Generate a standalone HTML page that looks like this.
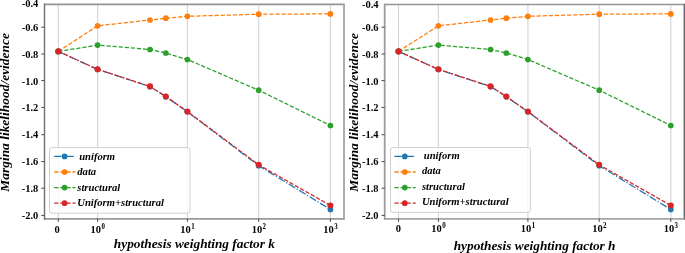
<!DOCTYPE html>
<html><head><meta charset="utf-8"><style>
html,body{margin:0;padding:0;background:#fff;}
svg{display:block;will-change:transform;}
.tk{font-family:"Liberation Serif",serif;font-weight:bold;font-size:10.5px;fill:#000;}
.sup{font-size:6.9px;}
.lab{font-family:"Liberation Serif",serif;font-weight:bold;font-style:italic;font-size:13.45px;fill:#000;}
.leg{font-family:"Liberation Serif",serif;font-weight:bold;font-style:italic;font-size:10.6px;fill:#000;}
</style></head><body>
<svg width="685" height="253" viewBox="0 0 685 253">
<rect width="685" height="253" fill="#fff"/>
<g>
<line x1="58.30" y1="4.3" x2="58.30" y2="218.6" stroke="#d5d5d5" stroke-width="1.15"/>
<line x1="97.60" y1="4.3" x2="97.60" y2="218.6" stroke="#d5d5d5" stroke-width="1.15"/>
<line x1="187.40" y1="4.3" x2="187.40" y2="218.6" stroke="#d5d5d5" stroke-width="1.15"/>
<line x1="258.70" y1="4.3" x2="258.70" y2="218.6" stroke="#d5d5d5" stroke-width="1.15"/>
<line x1="330.40" y1="4.3" x2="330.40" y2="218.6" stroke="#d5d5d5" stroke-width="1.15"/>
<g>
<polyline points="58.30,51.40 97.60,69.45 150.00,86.55 165.80,96.65 187.40,111.75 258.70,165.70 330.40,209.40" fill="none" stroke="#1f77b4" stroke-width="1.27" stroke-dasharray="7.36,1.84,1.15,1.84"/><circle cx="58.30" cy="51.40" r="2.85" fill="#1f77b4"/><circle cx="97.60" cy="69.45" r="2.85" fill="#1f77b4"/><circle cx="150.00" cy="86.55" r="2.85" fill="#1f77b4"/><circle cx="165.80" cy="96.65" r="2.85" fill="#1f77b4"/><circle cx="187.40" cy="111.75" r="2.85" fill="#1f77b4"/><circle cx="258.70" cy="165.70" r="2.85" fill="#1f77b4"/><circle cx="330.40" cy="209.40" r="2.85" fill="#1f77b4"/>
<polyline points="58.30,51.40 97.60,25.80 150.00,20.00 165.80,18.20 187.40,16.30 258.70,14.20 330.40,13.90" fill="none" stroke="#ff7f0e" stroke-width="1.27" stroke-dasharray="4.25,1.84"/><circle cx="58.30" cy="51.40" r="2.85" fill="#ff7f0e"/><circle cx="97.60" cy="25.80" r="2.85" fill="#ff7f0e"/><circle cx="150.00" cy="20.00" r="2.85" fill="#ff7f0e"/><circle cx="165.80" cy="18.20" r="2.85" fill="#ff7f0e"/><circle cx="187.40" cy="16.30" r="2.85" fill="#ff7f0e"/><circle cx="258.70" cy="14.20" r="2.85" fill="#ff7f0e"/><circle cx="330.40" cy="13.90" r="2.85" fill="#ff7f0e"/>
<polyline points="58.30,51.40 97.60,45.10 150.00,49.50 165.80,53.00 187.40,59.50 258.70,90.20 330.40,125.50" fill="none" stroke="#2ca02c" stroke-width="1.27" stroke-dasharray="4.25,1.84"/><circle cx="58.30" cy="51.40" r="2.85" fill="#2ca02c"/><circle cx="97.60" cy="45.10" r="2.85" fill="#2ca02c"/><circle cx="150.00" cy="49.50" r="2.85" fill="#2ca02c"/><circle cx="165.80" cy="53.00" r="2.85" fill="#2ca02c"/><circle cx="187.40" cy="59.50" r="2.85" fill="#2ca02c"/><circle cx="258.70" cy="90.20" r="2.85" fill="#2ca02c"/><circle cx="330.40" cy="125.50" r="2.85" fill="#2ca02c"/>
<polyline points="58.30,51.40 97.60,69.30 150.00,86.40 165.80,96.50 187.40,111.50 258.70,164.80 330.40,205.50" fill="none" stroke="#d62728" stroke-width="1.27" stroke-dasharray="4.25,1.84"/><circle cx="58.30" cy="51.40" r="3.0500000000000003" fill="#d62728"/><circle cx="97.60" cy="69.30" r="3.0500000000000003" fill="#d62728"/><circle cx="150.00" cy="86.40" r="3.0500000000000003" fill="#d62728"/><circle cx="165.80" cy="96.50" r="3.0500000000000003" fill="#d62728"/><circle cx="187.40" cy="111.50" r="3.0500000000000003" fill="#d62728"/><circle cx="258.70" cy="164.80" r="3.0500000000000003" fill="#d62728"/><circle cx="330.40" cy="205.50" r="3.0500000000000003" fill="#d62728"/>
</g>
<rect x="49.5" y="147.6" width="140.5" height="65.6" rx="2.5" fill="#fff" fill-opacity="0.8" stroke="#d0d0d0" stroke-width="1"/>
<line x1="54.2" y1="156.4" x2="75.5" y2="156.4" stroke="#1f77b4" stroke-width="1.27" stroke-dasharray="7.36,1.84,1.15,1.84"/>
<circle cx="64.6" cy="156.4" r="2.85" fill="#1f77b4"/>
<text x="79.2" y="159.6" class="leg">uniform</text>
<line x1="54.2" y1="172.0" x2="75.5" y2="172.0" stroke="#ff7f0e" stroke-width="1.27" stroke-dasharray="4.25,1.84"/>
<circle cx="64.6" cy="172.0" r="2.85" fill="#ff7f0e"/>
<text x="77.3" y="175.2" class="leg">data</text>
<line x1="54.2" y1="187.6" x2="75.5" y2="187.6" stroke="#2ca02c" stroke-width="1.27" stroke-dasharray="4.25,1.84"/>
<circle cx="64.6" cy="187.6" r="2.85" fill="#2ca02c"/>
<text x="77.3" y="190.8" class="leg">structural</text>
<line x1="54.2" y1="203.2" x2="75.5" y2="203.2" stroke="#d62728" stroke-width="1.27" stroke-dasharray="4.25,1.84"/>
<circle cx="64.6" cy="203.2" r="2.85" fill="#d62728"/>
<text x="77.3" y="206.4" class="leg">Uniform+structural</text>
<line x1="44.5" y1="4.3" x2="344.0" y2="4.3" stroke="#959595" stroke-width="1.7"/>
<line x1="344.0" y1="3.4499999999999997" x2="344.0" y2="219.85" stroke="#acacac" stroke-width="2.0"/>
<line x1="44.5" y1="218.9" x2="344.0" y2="218.9" stroke="#9a9a9a" stroke-width="1.9"/>
<line x1="44.5" y1="3.4499999999999997" x2="44.5" y2="219.85" stroke="#707070" stroke-width="1.4"/>
<line x1="41.3" y1="27.2" x2="44.5" y2="27.2" stroke="#4a4a4a" stroke-width="1"/>
<text transform="translate(38.3,30.70) scale(1,1.08)" class="tk" text-anchor="end">-0.6</text>
<line x1="41.3" y1="54.0" x2="44.5" y2="54.0" stroke="#4a4a4a" stroke-width="1"/>
<text transform="translate(38.3,57.50) scale(1,1.08)" class="tk" text-anchor="end">-0.8</text>
<line x1="41.3" y1="80.6" x2="44.5" y2="80.6" stroke="#4a4a4a" stroke-width="1"/>
<text transform="translate(38.3,84.60) scale(1,1.08)" class="tk" text-anchor="end">-1.0</text>
<line x1="41.3" y1="107.4" x2="44.5" y2="107.4" stroke="#4a4a4a" stroke-width="1"/>
<text transform="translate(38.3,110.90) scale(1,1.08)" class="tk" text-anchor="end">-1.2</text>
<line x1="41.3" y1="134.7" x2="44.5" y2="134.7" stroke="#4a4a4a" stroke-width="1"/>
<text transform="translate(38.3,138.20) scale(1,1.08)" class="tk" text-anchor="end">-1.4</text>
<line x1="41.3" y1="161.6" x2="44.5" y2="161.6" stroke="#4a4a4a" stroke-width="1"/>
<text transform="translate(38.3,165.10) scale(1,1.08)" class="tk" text-anchor="end">-1.6</text>
<line x1="41.3" y1="188.2" x2="44.5" y2="188.2" stroke="#4a4a4a" stroke-width="1"/>
<text transform="translate(38.3,191.70) scale(1,1.08)" class="tk" text-anchor="end">-1.8</text>
<line x1="41.3" y1="215.4" x2="44.5" y2="215.4" stroke="#4a4a4a" stroke-width="1"/>
<text transform="translate(38.3,218.90) scale(1,1.08)" class="tk" text-anchor="end">-2.0</text>
<text transform="translate(38.3,7.0) scale(1,1.08)" class="tk" text-anchor="end">-0.4</text>
<line x1="58.30" y1="218.6" x2="58.30" y2="221.79999999999998" stroke="#4a4a4a" stroke-width="1"/>
<line x1="97.60" y1="218.6" x2="97.60" y2="221.79999999999998" stroke="#4a4a4a" stroke-width="1"/>
<line x1="187.40" y1="218.6" x2="187.40" y2="221.79999999999998" stroke="#4a4a4a" stroke-width="1"/>
<line x1="258.70" y1="218.6" x2="258.70" y2="221.79999999999998" stroke="#4a4a4a" stroke-width="1"/>
<line x1="330.40" y1="218.6" x2="330.40" y2="221.79999999999998" stroke="#4a4a4a" stroke-width="1"/>
<text transform="translate(57.1,232.6) scale(1,1.08)" class="tk" text-anchor="middle">0</text>
<text transform="translate(97.7,232.6) scale(1,1.08)" class="tk" text-anchor="middle">10<tspan class="sup" dx="0.4" dy="-3.6">0</tspan></text>
<text transform="translate(187.5,232.6) scale(1,1.08)" class="tk" text-anchor="middle">10<tspan class="sup" dx="0.4" dy="-3.6">1</tspan></text>
<text transform="translate(258.8,232.6) scale(1,1.08)" class="tk" text-anchor="middle">10<tspan class="sup" dx="0.4" dy="-3.6">2</tspan></text>
<text transform="translate(330.5,232.6) scale(1,1.08)" class="tk" text-anchor="middle">10<tspan class="sup" dx="0.4" dy="-3.6">3</tspan></text>
<text x="194.4" y="247.8" class="lab" style="font-size:13.33px" text-anchor="middle">hypothesis weighting factor k</text>
<text transform="translate(9.3,112.4) rotate(-90)" x="0" y="0" class="lab" text-anchor="middle">Margina likelihood/evidence</text>
</g>
<g transform="translate(340.2,0)">
<line x1="58.30" y1="4.3" x2="58.30" y2="218.6" stroke="#d5d5d5" stroke-width="1.15"/>
<line x1="98.20" y1="4.3" x2="98.20" y2="218.6" stroke="#d5d5d5" stroke-width="1.15"/>
<line x1="187.70" y1="4.3" x2="187.70" y2="218.6" stroke="#d5d5d5" stroke-width="1.15"/>
<line x1="259.00" y1="4.3" x2="259.00" y2="218.6" stroke="#d5d5d5" stroke-width="1.15"/>
<line x1="330.60" y1="4.3" x2="330.60" y2="218.6" stroke="#d5d5d5" stroke-width="1.15"/>
<g>
<polyline points="58.30,51.40 98.20,69.45 150.35,86.55 166.15,96.65 187.70,111.75 259.00,165.70 330.60,209.40" fill="none" stroke="#1f77b4" stroke-width="1.27" stroke-dasharray="7.36,1.84,1.15,1.84"/><circle cx="58.30" cy="51.40" r="2.85" fill="#1f77b4"/><circle cx="98.20" cy="69.45" r="2.85" fill="#1f77b4"/><circle cx="150.35" cy="86.55" r="2.85" fill="#1f77b4"/><circle cx="166.15" cy="96.65" r="2.85" fill="#1f77b4"/><circle cx="187.70" cy="111.75" r="2.85" fill="#1f77b4"/><circle cx="259.00" cy="165.70" r="2.85" fill="#1f77b4"/><circle cx="330.60" cy="209.40" r="2.85" fill="#1f77b4"/>
<polyline points="58.30,51.40 98.20,25.80 150.35,20.00 166.15,18.20 187.70,16.30 259.00,14.20 330.60,13.90" fill="none" stroke="#ff7f0e" stroke-width="1.27" stroke-dasharray="4.25,1.84"/><circle cx="58.30" cy="51.40" r="2.85" fill="#ff7f0e"/><circle cx="98.20" cy="25.80" r="2.85" fill="#ff7f0e"/><circle cx="150.35" cy="20.00" r="2.85" fill="#ff7f0e"/><circle cx="166.15" cy="18.20" r="2.85" fill="#ff7f0e"/><circle cx="187.70" cy="16.30" r="2.85" fill="#ff7f0e"/><circle cx="259.00" cy="14.20" r="2.85" fill="#ff7f0e"/><circle cx="330.60" cy="13.90" r="2.85" fill="#ff7f0e"/>
<polyline points="58.30,51.40 98.20,45.10 150.35,49.50 166.15,53.00 187.70,59.50 259.00,90.20 330.60,125.50" fill="none" stroke="#2ca02c" stroke-width="1.27" stroke-dasharray="4.25,1.84"/><circle cx="58.30" cy="51.40" r="2.85" fill="#2ca02c"/><circle cx="98.20" cy="45.10" r="2.85" fill="#2ca02c"/><circle cx="150.35" cy="49.50" r="2.85" fill="#2ca02c"/><circle cx="166.15" cy="53.00" r="2.85" fill="#2ca02c"/><circle cx="187.70" cy="59.50" r="2.85" fill="#2ca02c"/><circle cx="259.00" cy="90.20" r="2.85" fill="#2ca02c"/><circle cx="330.60" cy="125.50" r="2.85" fill="#2ca02c"/>
<polyline points="58.30,51.40 98.20,69.30 150.35,86.40 166.15,96.50 187.70,111.50 259.00,164.80 330.60,205.50" fill="none" stroke="#d62728" stroke-width="1.27" stroke-dasharray="4.25,1.84"/><circle cx="58.30" cy="51.40" r="3.0500000000000003" fill="#d62728"/><circle cx="98.20" cy="69.30" r="3.0500000000000003" fill="#d62728"/><circle cx="150.35" cy="86.40" r="3.0500000000000003" fill="#d62728"/><circle cx="166.15" cy="96.50" r="3.0500000000000003" fill="#d62728"/><circle cx="187.70" cy="111.50" r="3.0500000000000003" fill="#d62728"/><circle cx="259.00" cy="164.80" r="3.0500000000000003" fill="#d62728"/><circle cx="330.60" cy="205.50" r="3.0500000000000003" fill="#d62728"/>
</g>
<rect x="50.3" y="147.5" width="140.0" height="64.8" rx="2.5" fill="#fff" fill-opacity="0.8" stroke="#d0d0d0" stroke-width="1"/>
<line x1="54.2" y1="156.4" x2="75.5" y2="156.4" stroke="#1f77b4" stroke-width="1.27" stroke-dasharray="7.36,1.84,1.15,1.84"/>
<circle cx="64.6" cy="156.4" r="2.85" fill="#1f77b4"/>
<text x="83.6" y="158.5" class="leg">uniform</text>
<line x1="54.2" y1="172.0" x2="75.5" y2="172.0" stroke="#ff7f0e" stroke-width="1.27" stroke-dasharray="4.25,1.84"/>
<circle cx="64.6" cy="172.0" r="2.85" fill="#ff7f0e"/>
<text x="81.7" y="174.1" class="leg">data</text>
<line x1="54.2" y1="187.6" x2="75.5" y2="187.6" stroke="#2ca02c" stroke-width="1.27" stroke-dasharray="4.25,1.84"/>
<circle cx="64.6" cy="187.6" r="2.85" fill="#2ca02c"/>
<text x="81.7" y="189.7" class="leg">structural</text>
<line x1="54.2" y1="203.2" x2="75.5" y2="203.2" stroke="#d62728" stroke-width="1.27" stroke-dasharray="4.25,1.84"/>
<circle cx="64.6" cy="203.2" r="2.85" fill="#d62728"/>
<text x="81.7" y="205.3" class="leg">Uniform+structural</text>
<line x1="44.5" y1="4.5" x2="344.1" y2="4.5" stroke="#959595" stroke-width="1.7"/>
<line x1="344.1" y1="3.65" x2="344.1" y2="219.85" stroke="#666666" stroke-width="1.4"/>
<line x1="44.5" y1="218.9" x2="344.1" y2="218.9" stroke="#a5a5a5" stroke-width="1.9"/>
<line x1="44.5" y1="3.65" x2="44.5" y2="219.85" stroke="#9c9c9c" stroke-width="1.8"/>
<line x1="41.3" y1="27.2" x2="44.5" y2="27.2" stroke="#4a4a4a" stroke-width="1"/>
<text transform="translate(38.3,30.70) scale(1,1.08)" class="tk" text-anchor="end">-0.6</text>
<line x1="41.3" y1="54.0" x2="44.5" y2="54.0" stroke="#4a4a4a" stroke-width="1"/>
<text transform="translate(38.3,57.50) scale(1,1.08)" class="tk" text-anchor="end">-0.8</text>
<line x1="41.3" y1="80.6" x2="44.5" y2="80.6" stroke="#4a4a4a" stroke-width="1"/>
<text transform="translate(38.3,84.60) scale(1,1.08)" class="tk" text-anchor="end">-1.0</text>
<line x1="41.3" y1="107.4" x2="44.5" y2="107.4" stroke="#4a4a4a" stroke-width="1"/>
<text transform="translate(38.3,110.90) scale(1,1.08)" class="tk" text-anchor="end">-1.2</text>
<line x1="41.3" y1="134.7" x2="44.5" y2="134.7" stroke="#4a4a4a" stroke-width="1"/>
<text transform="translate(38.3,138.20) scale(1,1.08)" class="tk" text-anchor="end">-1.4</text>
<line x1="41.3" y1="161.6" x2="44.5" y2="161.6" stroke="#4a4a4a" stroke-width="1"/>
<text transform="translate(38.3,165.10) scale(1,1.08)" class="tk" text-anchor="end">-1.6</text>
<line x1="41.3" y1="188.2" x2="44.5" y2="188.2" stroke="#4a4a4a" stroke-width="1"/>
<text transform="translate(38.3,191.70) scale(1,1.08)" class="tk" text-anchor="end">-1.8</text>
<line x1="41.3" y1="215.4" x2="44.5" y2="215.4" stroke="#4a4a4a" stroke-width="1"/>
<text transform="translate(38.3,218.90) scale(1,1.08)" class="tk" text-anchor="end">-2.0</text>
<text transform="translate(38.3,8.1) scale(1,1.08)" class="tk" text-anchor="end">-0.4</text>
<line x1="58.30" y1="218.6" x2="58.30" y2="221.79999999999998" stroke="#4a4a4a" stroke-width="1"/>
<line x1="98.20" y1="218.6" x2="98.20" y2="221.79999999999998" stroke="#4a4a4a" stroke-width="1"/>
<line x1="187.70" y1="218.6" x2="187.70" y2="221.79999999999998" stroke="#4a4a4a" stroke-width="1"/>
<line x1="259.00" y1="218.6" x2="259.00" y2="221.79999999999998" stroke="#4a4a4a" stroke-width="1"/>
<line x1="330.60" y1="218.6" x2="330.60" y2="221.79999999999998" stroke="#4a4a4a" stroke-width="1"/>
<text transform="translate(58.2,231.6) scale(1,1.08)" class="tk" text-anchor="middle">0</text>
<text transform="translate(98.3,231.6) scale(1,1.08)" class="tk" text-anchor="middle">10<tspan class="sup" dx="0.4" dy="-3.6">0</tspan></text>
<text transform="translate(187.8,231.6) scale(1,1.08)" class="tk" text-anchor="middle">10<tspan class="sup" dx="0.4" dy="-3.6">1</tspan></text>
<text transform="translate(259.1,231.6) scale(1,1.08)" class="tk" text-anchor="middle">10<tspan class="sup" dx="0.4" dy="-3.6">2</tspan></text>
<text transform="translate(330.7,231.6) scale(1,1.08)" class="tk" text-anchor="middle">10<tspan class="sup" dx="0.4" dy="-3.6">3</tspan></text>
<text x="194.4" y="249.8" class="lab" style="font-size:13.33px" text-anchor="middle">hypothesis weighting factor h</text>
<text transform="translate(17.4,112.4) rotate(-90)" x="0" y="0" class="lab" text-anchor="middle">Margina likelihood/evidence</text>
</g>
</svg>
</body></html>
